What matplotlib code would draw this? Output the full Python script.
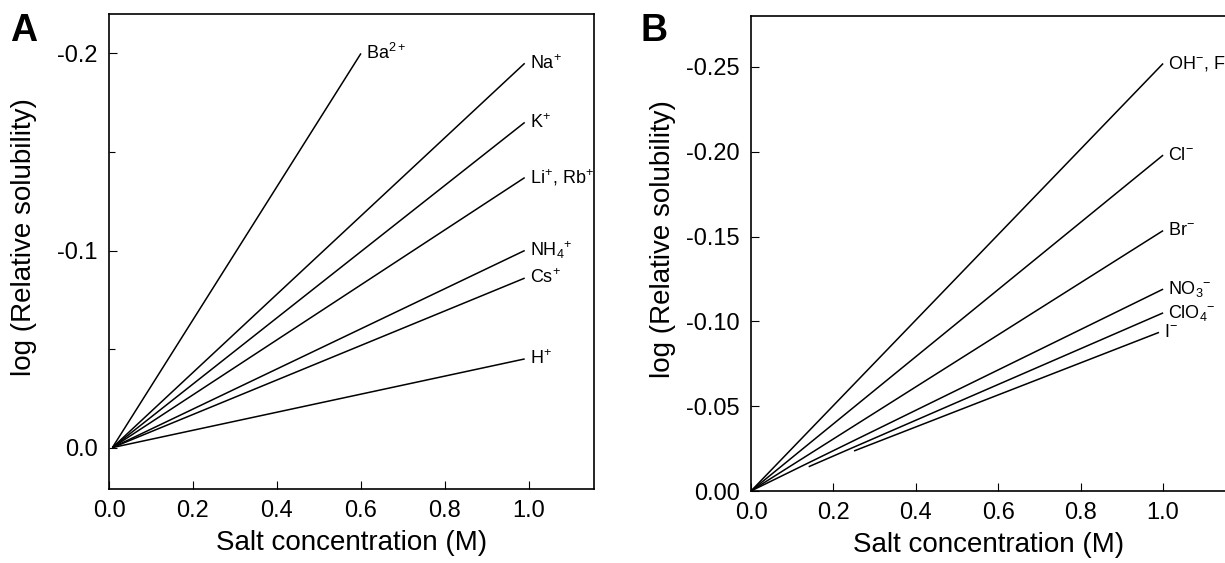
import numpy as np
import matplotlib.pyplot as plt
from matplotlib.ticker import FixedLocator

# Helvetica-like font, mathtext in the same family for the ion charges
plt.rcParams['font.family'] = ['Liberation Sans', 'DejaVu Sans']
plt.rcParams['mathtext.fontset'] = 'custom'
plt.rcParams['mathtext.rm'] = 'Liberation Sans'
plt.rcParams['mathtext.it'] = 'Liberation Sans:italic'
plt.rcParams['mathtext.bf'] = 'Liberation Sans:bold'

# Panel A: cations (lines from the origin)
cations = ['Ba$^{2+}$', 'Na$^{+}$', 'K$^{+}$', 'Li$^{+}$, Rb$^{+}$',
           'NH$_{4}$$^{+}$', 'Cs$^{+}$', 'H$^{+}$']
cation_x_start = [0.008, 0.008, 0.008, 0.008, 0.008, 0.008, 0.008]
cation_y_start = [0.0, 0.0, 0.0, 0.0, 0.0, 0.0, 0.0]
cation_x_end = [0.60, 0.99, 0.99, 0.99, 0.99, 0.99, 0.99]
cation_y_end = [-0.200, -0.195, -0.165, -0.137, -0.100, -0.086, -0.045]

# Panel B: anions (ClO4- and I- start further right)
anions = ['OH$^{-}$, F$^{-}$', 'Cl$^{-}$', 'Br$^{-}$', 'NO$_{3}$$^{-}$',
          'ClO$_{4}$$^{-}$', 'I$^{-}$']
anion_x_start = [0.0, 0.0, 0.0, 0.0, 0.14, 0.25]
anion_y_start = [0.0, 0.0, 0.0, 0.0, -0.0143, -0.0236]
anion_x_end = [1.0, 1.0, 1.0, 1.0, 1.0, 0.99]
anion_y_end = [-0.252, -0.198, -0.1535, -0.119, -0.105, -0.0935]

x_ticks = [0.0, 0.2, 0.4, 0.6, 0.8, 1.0]
a_y_ticks = [0.0, -0.1, -0.2]
a_y_minor = [-0.05, -0.15]
b_y_ticks = [0.0, -0.05, -0.10, -0.15, -0.20, -0.25]


def fmt_tick(v, fmt):
    s = fmt.format(v)
    return s.lstrip('-') if abs(v) < 1e-9 else s


def style_axes(ax, yticks, yfmt):
    ax.set_xlim(0, 1.155)
    ax.set_xticks(x_ticks)
    ax.set_xticklabels([f'{v:.1f}' for v in x_ticks])
    ax.set_yticks(yticks)
    ax.set_yticklabels([fmt_tick(v, yfmt) for v in yticks])
    ax.tick_params(which='major', direction='in', length=6, width=0.8,
                   labelsize=17, pad=8, top=False, right=False)
    ax.tick_params(which='minor', direction='in', length=4, width=0.8)
    for s in ax.spines.values():
        s.set_linewidth(1.2)
    ax.set_xlabel('Salt concentration (M)', fontsize=20, labelpad=6)
    ax.set_ylabel('log (Relative solubility)', fontsize=20)


def draw_lines(ax, names, xs, ys, xe, ye):
    for name, x0, y0, x1, y1 in zip(names, xs, ys, xe, ye):
        ax.plot([x0, x1], [y0, y1], color='black', lw=1.1, solid_capstyle='butt')
        ax.text(x1 + 0.013, y1, name, fontsize=13, ha='left', va='center',
                clip_on=False)


fig = plt.figure(figsize=(12.25, 5.63), dpi=100)
ax_a = fig.add_axes([109 / 1225, 74 / 563, 485 / 1225, 475 / 563])
ax_b = fig.add_axes([751 / 1225, 72 / 563, 476 / 1225, 475 / 563])

# A
draw_lines(ax_a, cations, cation_x_start, cation_y_start, cation_x_end, cation_y_end)
style_axes(ax_a, a_y_ticks, '{:.1f}')
ax_a.yaxis.set_minor_locator(FixedLocator(a_y_minor))
ax_a.set_ylim(0.021, -0.22)
ax_a.yaxis.set_label_coords(-0.148, 0.53)

# B
draw_lines(ax_b, anions, anion_x_start, anion_y_start, anion_x_end, anion_y_end)
style_axes(ax_b, b_y_ticks, '{:.2f}')
ax_b.set_ylim(0.0, -0.28)
ax_b.yaxis.set_label_coords(-0.158, 0.53)

fig.text(10 / 1225, 1 - 41 / 563, 'A', fontsize=27, fontweight='bold', va='baseline')
fig.text(640 / 1225, 1 - 41 / 563, 'B', fontsize=27, fontweight='bold', va='baseline')

fig.savefig('out.png', dpi=100)
